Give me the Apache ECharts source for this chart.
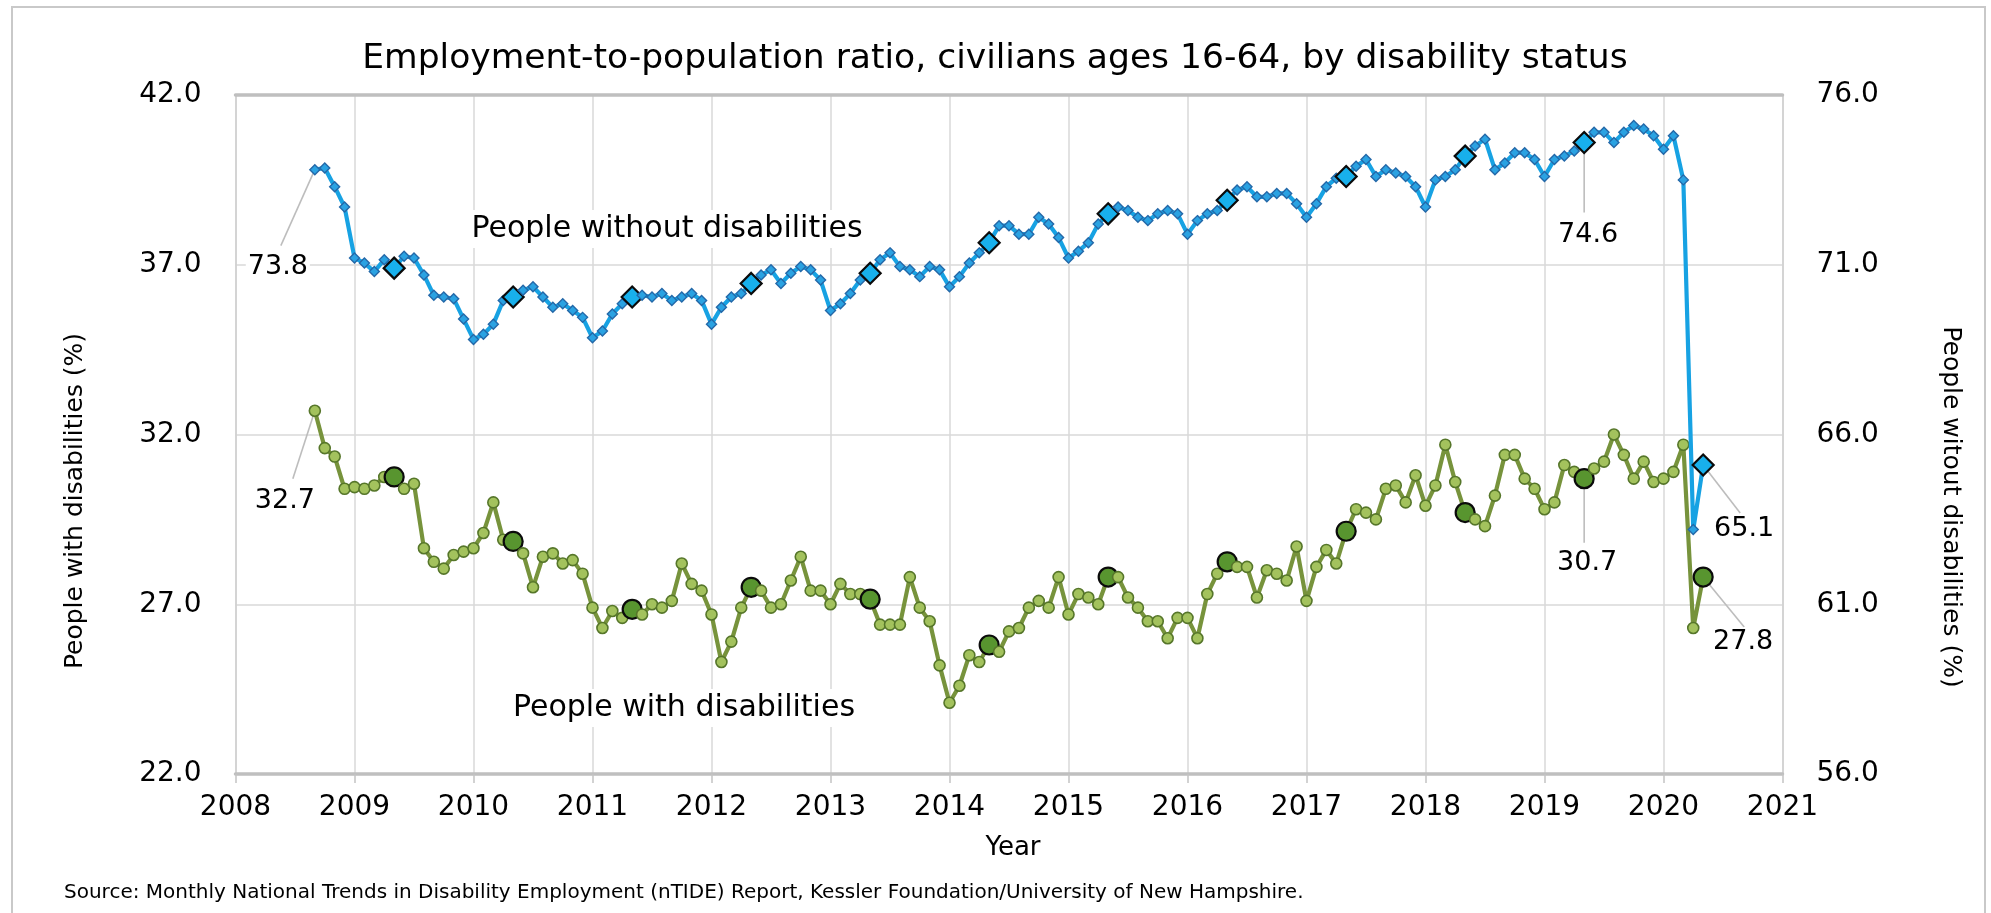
<!DOCTYPE html>
<html>
<head>
<meta charset="utf-8">
<script src="https://cdn.jsdelivr.net/npm/echarts@6/dist/echarts.min.js"></script>
<style>
html,body{margin:0;padding:0;background:#fff;}
#main{width:1991px;height:913px;}
</style>
</head>
<body>
<div id="main"></div>
<script>
// ---------------- DATA ----------------
const startYear = 2008;
const startMonth = 9; // September 2008, monthly through May 2020

// People without disabilities (right axis, %)
const withoutDisabilities = [
  73.8, 73.85, 73.3, 72.7,
  71.2, 71.05, 70.8, 71.15, 70.9, 71.25, 71.2, 70.7, 70.1, 70.05, 70.0, 69.4,
  68.8, 68.95, 69.25, 69.95, 70.05, 70.25, 70.35, 70.05, 69.75, 69.85, 69.65, 69.45,
  68.85, 69.05, 69.55, 69.85, 70.05, 70.1, 70.05, 70.15, 69.95, 70.05, 70.15, 69.95,
  69.25, 69.75, 70.05, 70.15, 70.45, 70.7, 70.85, 70.45, 70.75, 70.95, 70.85, 70.55,
  69.65, 69.85, 70.15, 70.55, 70.75, 71.15, 71.35, 70.95, 70.85, 70.65, 70.95, 70.85,
  70.35, 70.65, 71.05, 71.35, 71.65, 72.15, 72.15, 71.9, 71.9, 72.4, 72.2, 71.8,
  71.2, 71.4, 71.65, 72.2, 72.5, 72.7, 72.6, 72.4, 72.3, 72.5, 72.6, 72.5,
  71.9, 72.3, 72.5, 72.6, 72.9, 73.2, 73.3, 73.0, 73.0, 73.1, 73.1, 72.8,
  72.4, 72.8, 73.3, 73.55, 73.6, 73.9, 74.1, 73.6, 73.8, 73.7, 73.6, 73.3,
  72.7, 73.5, 73.6, 73.8, 74.2, 74.5, 74.7, 73.8, 74.0, 74.3, 74.3, 74.1,
  73.6, 74.1, 74.2, 74.35, 74.6, 74.9, 74.9, 74.6, 74.9, 75.1, 75.0, 74.8,
  74.4, 74.8, 73.5, 63.2, 65.1
];

// People with disabilities (left axis, %)
const withDisabilities = [
  32.7, 31.6, 31.35, 30.4,
  30.45, 30.4, 30.5, 30.75, 30.75, 30.4, 30.55, 28.65, 28.25, 28.05, 28.45, 28.55,
  28.65, 29.1, 30.0, 28.9, 28.85, 28.5, 27.5, 28.4, 28.5, 28.2, 28.3, 27.9,
  26.9, 26.3, 26.8, 26.6, 26.85, 26.7, 27.0, 26.9, 27.1, 28.2, 27.6, 27.4,
  26.7, 25.3, 25.9, 26.9, 27.5, 27.4, 26.9, 27.0, 27.7, 28.4, 27.4, 27.4,
  27.0, 27.6, 27.3, 27.3, 27.15, 26.4, 26.4, 26.4, 27.8, 26.9, 26.5, 25.2,
  24.1, 24.6, 25.5, 25.3, 25.8, 25.6, 26.2, 26.3, 26.9, 27.1, 26.9, 27.8,
  26.7, 27.3, 27.2, 27.0, 27.8, 27.8, 27.2, 26.9, 26.5, 26.5, 26.0, 26.6,
  26.6, 26.0, 27.3, 27.9, 28.25, 28.1, 28.1, 27.2, 28.0, 27.9, 27.7, 28.7,
  27.1, 28.1, 28.6, 28.2, 29.15, 29.8, 29.7, 29.5, 30.4, 30.5, 30.0, 30.8,
  29.9, 30.5, 31.7, 30.6, 29.7, 29.5, 29.3, 30.2, 31.4, 31.4, 30.7, 30.4,
  29.8, 30.0, 31.1, 30.9, 30.7, 31.0, 31.2, 32.0, 31.4, 30.7, 31.2, 30.6,
  30.7, 30.9, 31.7, 26.3, 27.8
];

const highlightMonth = 5;                 // May of each year drawn with large markers
const labelledPoints = ['2008-09', '2019-05', '2020-05'];

const titleText = 'Employment-to-population ratio, civilians ages 16-64, by disability status';
const leftAxisName = 'People with disabilities (%)';
const rightAxisName = 'People witout disabilities (%)';
const xAxisName = 'Year';
const seriesNames = ['People with disabilities', 'People without disabilities'];
const sourceText = 'Source: Monthly National Trends in Disability Employment (nTIDE) Report, Kessler Foundation/University of New Hampshire.';

// ---------------- CHART ----------------
const FONT = '"DejaVu Sans", sans-serif';

function monthInfo(i) {
  const m0 = startMonth - 1 + i;
  const year = startYear + Math.floor(m0 / 12);
  const month = (m0 % 12) + 1;
  return { x: startYear + m0 / 12, year, month, key: year + '-' + String(month).padStart(2, '0') };
}

function buildData(vals, small, big) {
  return vals.map((v, i) => {
    const info = monthInfo(i);
    const isBig = info.month === highlightMonth;
    return {
      value: [info.x, v],
      symbolSize: isBig ? big.size : small.size,
      itemStyle: isBig ? big.style : small.style
    };
  });
}

const greenData = buildData(withDisabilities,
  { size: 11, style: { color: '#a3c25d', borderColor: '#56762a', borderWidth: 1.6 } },
  { size: 19, style: { color: '#58952f', borderColor: '#0b0b0b', borderWidth: 2.2 } });

const blueData = buildData(withoutDisabilities,
  { size: 10, style: { color: '#2aa2e2', borderColor: '#2468a8', borderWidth: 1.4 } },
  { size: 21, style: { color: '#18b0ec', borderColor: '#0b0b0b', borderWidth: 2.2 } });

const chart = echarts.init(document.getElementById('main'), null, { renderer: 'canvas' });

const option = {
  animation: false,
  backgroundColor: '#ffffff',
  grid: { left: 235.5, right: 208.5, top: 95, bottom: 139, show: false },
  xAxis: [
    {
      type: 'value', min: 2008, max: 2021, interval: 1,
      axisLine: { show: true, onZero: false, lineStyle: { color: '#bfbfbf', width: 3.5 } },
      axisTick: { show: true, length: 9, lineStyle: { color: '#c4c4c4', width: 1.5 } },
      axisLabel: { fontFamily: FONT, fontSize: 28, color: '#000', margin: 20, formatter: v => String(v) },
      splitLine: { show: true, lineStyle: { color: '#d9d9d9', width: 1.5 } }
    },
    {
      type: 'value', min: 2008, max: 2021, interval: 1, position: 'top',
      axisLine: { show: true, onZero: false, lineStyle: { color: '#bfbfbf', width: 3.5 } },
      axisTick: { show: false }, axisLabel: { show: false }, splitLine: { show: false }
    }
  ],
  yAxis: [
    {
      type: 'value', min: 22, max: 42, interval: 5, position: 'left',
      axisLine: { show: true, lineStyle: { color: '#cfcfcf', width: 1.5 } },
      axisTick: { show: false },
      axisLabel: { fontFamily: FONT, fontSize: 28, color: '#000', margin: 34, formatter: v => v.toFixed(1) },
      splitLine: { show: true, lineStyle: { color: '#d9d9d9', width: 1.5 } }
    },
    {
      type: 'value', min: 56, max: 76, interval: 5, position: 'right',
      axisLine: { show: true, lineStyle: { color: '#cfcfcf', width: 1.5 } },
      axisTick: { show: false },
      axisLabel: { fontFamily: FONT, fontSize: 28, color: '#000', margin: 34, formatter: v => v.toFixed(1) },
      splitLine: { show: false }
    }
  ],
  series: [
    {
      name: seriesNames[0], type: 'line', yAxisIndex: 0, xAxisIndex: 0,
      data: greenData, symbol: 'circle', showAllSymbol: true,
      lineStyle: { color: '#77933c', width: 4.2 },
      itemStyle: { color: '#a3c25d' },
      z: 3
    },
    {
      name: seriesNames[1], type: 'line', yAxisIndex: 1, xAxisIndex: 0,
      data: blueData, symbol: 'diamond', showAllSymbol: true,
      lineStyle: { color: '#17a2e3', width: 4.2 },
      itemStyle: { color: '#2aa2e2' },
      z: 4
    }
  ]
};
chart.setOption(option);

// ---------- annotations (text + leader lines), anchored to data via axes ----------
const labelOffsets = {
  '1-2008-09': { dx: -37, dy: 97, lx: -34, ly: 76 },
  '0-2008-09': { dx: -30, dy: 90, lx: -22, ly: 68 },
  '1-2019-05': { dx: 4, dy: 92, lx: 0, ly: 70 },
  '0-2019-05': { dx: 3, dy: 84, lx: 0, ly: 64 },
  '1-2020-05': { dx: 41, dy: 64, lx: 37, ly: 48 },
  '0-2020-05': { dx: 40, dy: 65, lx: 41, ly: 50 }
};

const graphics = [];
graphics.push({
  type: 'rect', silent: true, z: -10,
  shape: { x: 12, y: 7, width: 1973, height: 930 },
  style: { fill: 'none', stroke: '#c9c9c9', lineWidth: 2 }
});

const seriesVals = [withDisabilities, withoutDisabilities];
[0, 1].forEach(s => {
  seriesVals[s].forEach((v, i) => {
    const info = monthInfo(i);
    if (labelledPoints.indexOf(info.key) < 0) return;
    const off = labelOffsets[s + '-' + info.key];
    const p = chart.convertToPixel({ seriesIndex: s }, [info.x, v]);
    graphics.push({
      type: 'line', silent: true, z: 1,
      shape: { x1: p[0], y1: p[1], x2: p[0] + off.lx, y2: p[1] + off.ly },
      style: { stroke: '#bdbdbd', lineWidth: 1.6 }
    });
    graphics.push({
      type: 'text', silent: true, z: 10,
      x: p[0] + off.dx, y: p[1] + off.dy,
      style: {
        text: v.toFixed(1), font: '27px ' + FONT, fill: '#000',
        textAlign: 'center', textVerticalAlign: 'middle', align: 'center', verticalAlign: 'middle',
        backgroundColor: '#fff', padding: [1, 2]
      }
    });
  });
});

function txt(text, x, y, size, extra) {
  return Object.assign({
    type: 'text', silent: true, z: 10, x: x, y: y,
    style: {
      text: text, font: size + 'px ' + FONT, fill: '#000',
      textAlign: 'center', textVerticalAlign: 'middle', align: 'center', verticalAlign: 'middle'
    }
  }, extra || {});
}

graphics.push(txt(titleText, 995, 59, 34.5));
graphics.push(txt(xAxisName, 1013, 848, 26));
graphics.push(txt(leftAxisName, 75, 501, 25, { rotation: Math.PI / 2 }));
graphics.push(txt(rightAxisName, 1950, 507, 25, { rotation: -Math.PI / 2 }));

const s1 = txt(seriesNames[1], 667, 229, 30);
s1.style.backgroundColor = '#fff'; s1.style.padding = [4, 6];
graphics.push(s1);
const s0 = txt(seriesNames[0], 684, 708, 30);
s0.style.backgroundColor = '#fff'; s0.style.padding = [4, 6];
graphics.push(s0);

const src = {
  type: 'text', silent: true, z: 10, x: 64, y: 893,
  style: {
    text: sourceText, font: '20px ' + FONT, fill: '#000',
    textAlign: 'left', textVerticalAlign: 'middle', align: 'left', verticalAlign: 'middle'
  }
};
graphics.push(src);

chart.setOption({ graphic: { elements: graphics } });
</script>
</body>
</html>
